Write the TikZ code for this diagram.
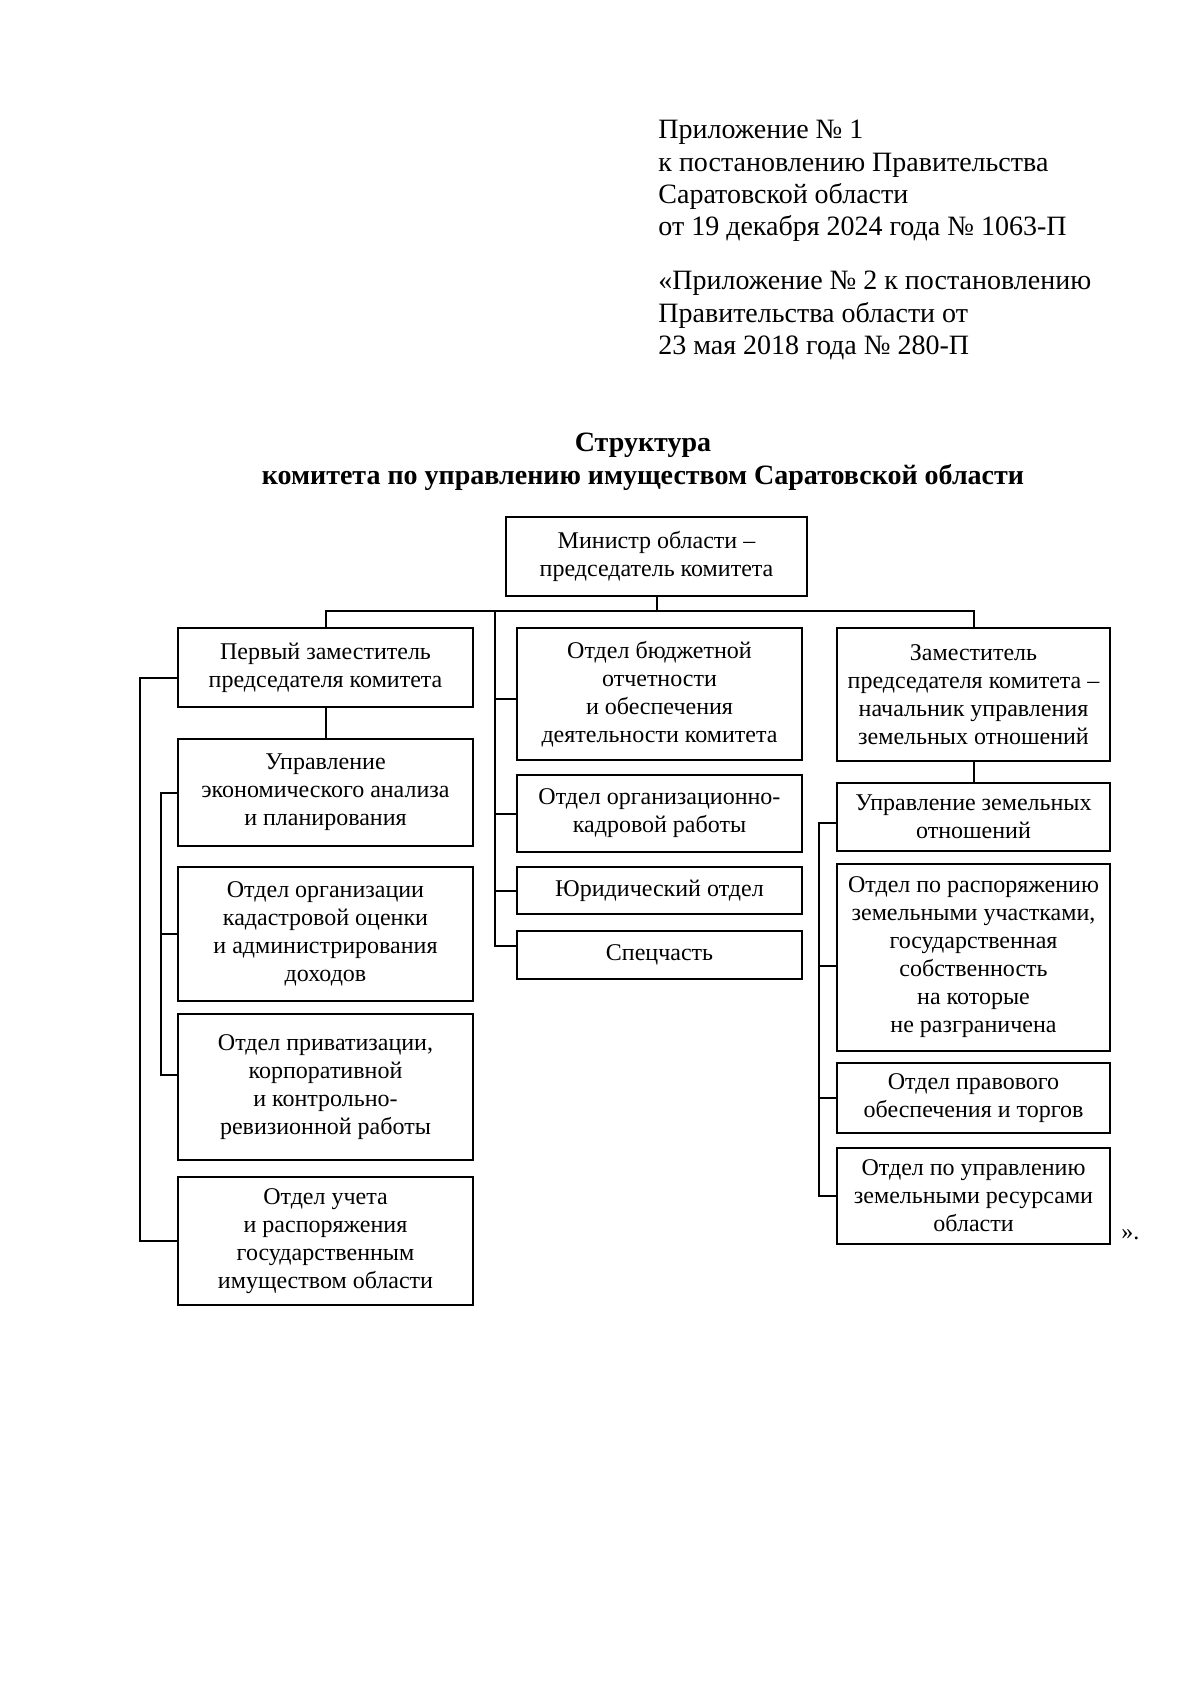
\documentclass[tikz,border=0pt]{standalone}
\usepackage{fontspec}
\setmainfont{Liberation Serif}
\usetikzlibrary{positioning}

\begin{document}
\begin{tikzpicture}[
  unit/.style={draw, line width=1pt, align=center, inner sep=2pt, font=\fontsize{12}{14}\selectfont},
  leftcol/.style={unit, minimum width=147.5pt},
  midcol/.style={unit, minimum width=142.5pt},
  rightcol/.style={unit, minimum width=136.5pt},
  link/.style={line width=1pt},
  head/.style={align=left, inner sep=0pt, font=\fontsize{14}{16.1}\selectfont}
]
\useasboundingbox (0,0) rectangle (600pt,-843pt);
\node[head, anchor=north west] (annex) at (329pt,-60pt) {Приложение № 1\\к постановлению Правительства\\Саратовской области\\от 19 декабря 2024 года № 1063-П};
\node[head, anchor=north west] (annexold) at (329pt,-135.5pt) {«Приложение № 2 к постановлению\\Правительства области от\\23 мая 2018 года № 280-П};
\node[align=center, inner sep=0pt, font=\fontsize{14}{16.1}\selectfont\bfseries, anchor=north] (title) at (321.5pt,-216.5pt) {Структура\\комитета по управлению имуществом Саратовской области};

\node[unit, minimum width=150.5pt, minimum height=39.5pt, anchor=north west] (minister) at (252.5pt,-258pt) {Министр области –\\председатель комитета};

\node[leftcol, minimum height=39.5pt, anchor=north west] (firstdep) at (88.5pt,-313.5pt) {Первый заместитель\\председателя комитета};
\node[leftcol, minimum height=53.5pt, below=15pt of firstdep] (econ) {Управление\\экономического анализа\\и планирования};
\node[leftcol, minimum height=67pt, below=9.5pt of econ] (cadastre) {Отдел организации\\кадастровой оценки\\и администрирования\\доходов};
\node[leftcol, minimum height=73pt, below=5.5pt of cadastre] (privat) {Отдел приватизации,\\корпоративной\\и контрольно-\\ревизионной работы};
\node[leftcol, minimum height=64pt, below=7.5pt of privat] (property) {Отдел учета\\и распоряжения\\государственным\\имуществом области};

\node[midcol, minimum height=66pt, anchor=north west] (budget) at (258pt,-313.5pt) {Отдел бюджетной\\отчетности\\и обеспечения\\деятельности комитета};
\node[midcol, minimum height=38.5pt, below=6.5pt of budget] (staff) {Отдел организационно-\\кадровой работы};
\node[midcol, minimum height=23.5pt, below=6.5pt of staff] (legal) {Юридический отдел};
\node[midcol, minimum height=24pt, below=7.5pt of legal] (special) {Спецчасть};

\node[rightcol, minimum height=66.5pt, anchor=north west] (landdep) at (418pt,-313.5pt) {Заместитель\\председателя комитета –\\начальник управления\\земельных отношений};
\node[rightcol, minimum height=34pt, below=10pt of landdep] (landadm) {Управление земельных\\отношений};
\node[rightcol, minimum height=93.5pt, below=5.5pt of landadm] (plots) {Отдел по распоряжению\\земельными участками,\\государственная\\собственность\\на которые\\не разграничена};
\node[rightcol, minimum height=35pt, below=5pt of plots] (trades) {Отдел правового\\обеспечения и торгов};
\node[rightcol, minimum height=48pt, below=6.5pt of trades] (resources) {Отдел по управлению\\земельными ресурсами\\области};
\node[anchor=base west, inner sep=0pt, font=\fontsize{12}{14}\selectfont] (closing) at ([xshift=5pt,yshift=3pt]resources.south east) {».};

\draw[link] (minister.south) -- ++(0,-7pt) coordinate (bus);
\draw[link] (firstdep.north) |- (bus) -| (landdep.north);
\draw[link] (firstdep.south) -- (econ.north);
\draw[link] (landdep.south) -- (landadm.north);
\draw[link] ([yshift=-5pt]firstdep.west) -- ++(-18.5pt,0) coordinate (ltrunk) |- (property.west);
\draw[link] (econ.west) -- ++(-8pt,0) coordinate (itrunk) |- ([yshift=6pt]privat.west);
\draw[link] (cadastre.west) -- (cadastre.west -| itrunk);
\path (budget.west) ++(-10.5pt,0) coordinate (mtrunk);
\draw[link] (mtrunk |- bus) -- ([yshift=4.5pt]special.west -| mtrunk) -- ([yshift=4.5pt]special.west);
\draw[link] ([yshift=-2.5pt]budget.west) -- ([yshift=-2.5pt]budget.west -| mtrunk);
\draw[link] (staff.west) -- (staff.west -| mtrunk);
\draw[link] (legal.west) -- (legal.west -| mtrunk);
\draw[link] ([yshift=-3pt]landadm.west) -- ++(-8.5pt,0) coordinate (rtrunk) |- (resources.west);
\draw[link] ([yshift=-4pt]plots.west) -- ([yshift=-4pt]plots.west -| rtrunk);
\draw[link] (trades.west) -- (trades.west -| rtrunk);
\end{tikzpicture}
\end{document}
